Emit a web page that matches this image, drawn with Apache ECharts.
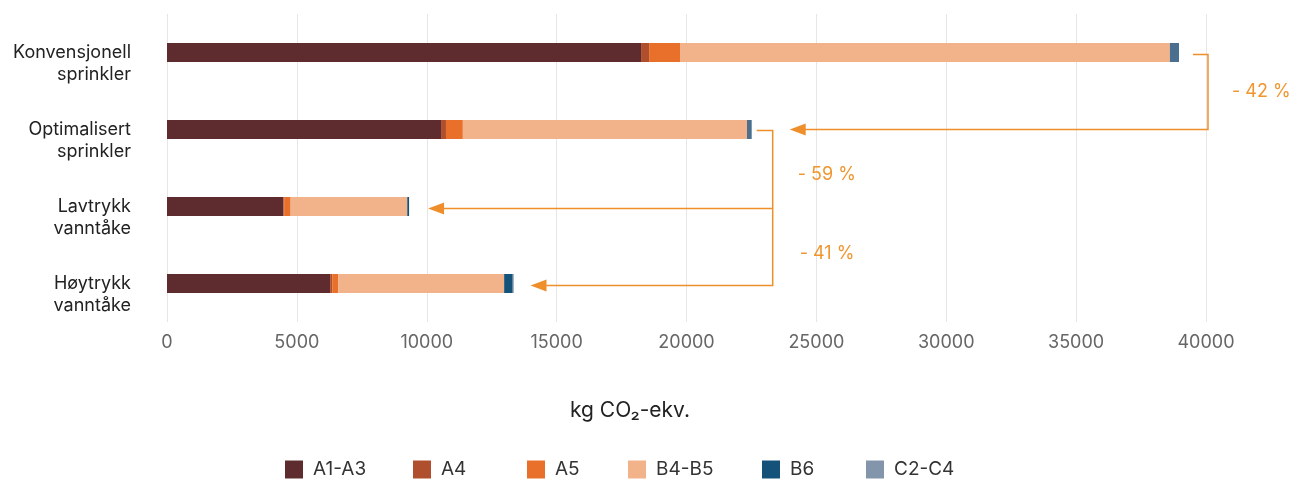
<!DOCTYPE html>
<html>
<head>
<meta charset="utf-8">
<script src="https://cdn.jsdelivr.net/npm/echarts@6/dist/echarts.min.js"></script>
<style>
html,body{margin:0;padding:0;background:#fff;}
#c{width:1289px;height:479px;}
</style>
</head>
<body>
<div id="c"></div>
<script>
const categories = ['Konvensjonell\nsprinkler', 'Optimalisert\nsprinkler', 'Lavtrykk\nvanntåke', 'Høytrykk\nvanntåke'];
const seriesNames = ['A1-A3', 'A4', 'A5', 'B4-B5', 'B6', 'C2-C4'];
const A1A3 = [18250, 10550, 4480, 6280];
const A4 = [310, 190, 30, 80];
const A5 = [1190, 650, 250, 230];
const B4B5 = [18860, 10940, 4490, 6390];
const B6 = [0, 0, 70, 310];
const C2C4 = [350, 180, 0, 50];
const xTicks = [0, 5000, 10000, 15000, 20000, 25000, 30000, 35000, 40000];
const reductions = ['- 42 %', '- 59 %', '- 41 %'];

const values = [A1A3, A4, A5, B4B5, B6, C2C4];
const barColors = ['#5e2c2f', '#b04f2d', '#e8702a', '#f2b28a', '#15527a', '#4a6f8f'];
const legendColors = ['#5e2c2f', '#b04f2d', '#e8702a', '#f2b28a', '#15527a', '#8295aa'];
const legendLeft = [285, 413, 527, 628, 762, 866];
const FONT = 'Inter';
const ORANGE = '#ee8f2c';

const chart = echarts.init(document.getElementById('c'));
const option = {
  animation: false,
  grid: {left: 167, right: 83, top: 14, bottom: 157, containLabel: false},
  legend: seriesNames.map((n, i) => ({
    left: legendLeft[i], top: 460, padding: 0,
    itemWidth: 18, itemHeight: 18,
    icon: 'rect',
    textStyle: {fontFamily: FONT, fontSize: 19, color: '#333', padding: [0, 0, 0, 5]},
    data: [{name: n, itemStyle: {color: legendColors[i]}}]
  })),
  xAxis: {
    type: 'value', min: xTicks[0], max: xTicks[xTicks.length - 1], interval: xTicks[1] - xTicks[0],
    axisLine: {show: false}, axisTick: {show: false},
    splitLine: {show: true, lineStyle: {color: '#e6e6e6', width: 1}},
    axisLabel: {fontFamily: FONT, fontSize: 18, color: '#666', margin: 12, formatter: v => String(v)}
  },
  yAxis: {
    type: 'category', data: categories, inverse: true,
    axisLine: {show: false}, axisTick: {show: false},
    axisLabel: {fontFamily: FONT, fontSize: 18, color: '#222', margin: 36, lineHeight: 22, align: 'right',
      formatter: v => '\n' + v}
  },
  series: seriesNames.map((n, i) => ({
    name: n, type: 'bar', stack: 'total', barWidth: 19,
    itemStyle: {color: barColors[i]},
    data: values[i]
  })),
  graphic: []
};
chart.setOption(option);

// Annotations computed from totals
const totals = categories.map((_, k) => values.reduce((s, arr) => s + arr[k], 0));
const px = (v, k) => chart.convertToPixel({gridIndex: 0}, [v, k]);
const g = [];
const lineStyle = {stroke: ORANGE, lineWidth: 1.5, fill: null};
function poly(points) { g.push({type: 'polyline', shape: {points}, style: lineStyle, z: 10}); }
function arrowHead(x, y) {
  g.push({type: 'polygon', shape: {points: [[x, y], [x + 16, y - 6], [x + 16, y + 6]]}, style: {fill: ORANGE}, z: 11});
}
function label(text, x, y) {
  g.push({type: 'text', x, y, style: {text, fill: '#f0962f', font: '18px ' + FONT, textVerticalAlign: 'middle'}, z: 11});
}
const p0 = px(totals[0], 0), p1 = px(totals[1], 1), p2 = px(totals[2], 2), p3 = px(totals[3], 3);
// bracket 1: bar 0 -> bar 1
const bx1 = p0[0] + 29;
const tip1 = p1[0] + 38;
poly([[p0[0] + 14, p0[1] + 2], [bx1, p0[1] + 2], [bx1, p1[1]], [tip1 + 10, p1[1]]]);
arrowHead(tip1, p1[1]);
label(reductions[0], bx1 + 24, (p0[1] + p1[1]) / 2 + 1);
// bracket 2: bar 1 -> bars 2, 3
const bx2 = p1[0] + 21;
const tip2 = p2[0] + 19;
const tip3 = p3[0] + 17;
poly([[p1[0] + 5, p1[1] + 1], [bx2, p1[1] + 1], [bx2, p3[1] + 2], [tip3 + 10, p3[1] + 2]]);
poly([[bx2, p2[1] + 2], [tip2 + 10, p2[1] + 2]]);
arrowHead(tip2, p2[1] + 2);
arrowHead(tip3, p3[1] + 2);
label(reductions[1], bx2 + 25, (p1[1] + p2[1]) / 2 + 7);
label(reductions[2], bx2 + 27, (p2[1] + p3[1]) / 2 + 9);
// axis title
g.push({type: 'text', x: 630, y: 411, style: {text: 'kg CO₂-ekv.', fill: '#222', font: '21px ' + FONT, textAlign: 'center', textVerticalAlign: 'middle'}});
chart.setOption({graphic: g});
</script>
</body>
</html>
